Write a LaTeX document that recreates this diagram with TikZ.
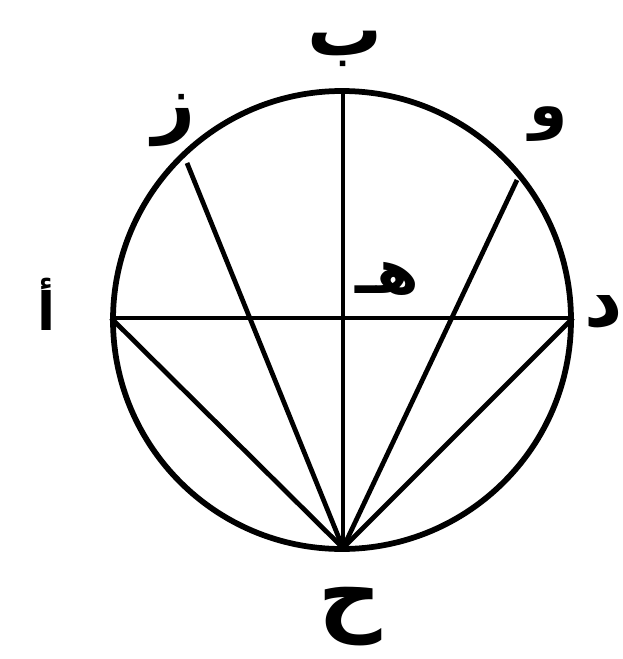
\documentclass[tikz,border=0pt]{standalone}
\usepackage{fontspec}
\newfontfamily\arabicfont[Script=Arabic]{DejaVu Sans}
\TeXXeTstate=1
\tikzset{
  rim/.style={line width=2.3mm},
  chord/.style={line width=1.9mm},
  lbl/.style={inner sep=0pt, font=\arabicfont\bfseries\fontsize{#1}{#1}\selectfont},
  lbl/.default=100
}
\begin{document}
\begin{tikzpicture}[x=0.4mm,y=-0.4mm]
\useasboundingbox (0,0) rectangle (622,659);
\coordinate (O) at (342,320);
\coordinate (B) at (343,93);
\coordinate (H) at (343,548);
\coordinate (A) at (111,318);
\coordinate (D) at (573,318);
\coordinate (Z) at (187,163);
\coordinate (W) at (517,180);
\draw[rim] (O) circle[radius=91.6mm];
\draw[chord] (A) -- (D);
\draw[chord] (B) -- (H);
\draw[chord] (Z) -- (H);
\draw[chord] (W) -- (H);
\draw[chord] (A) -- (H);
\draw[chord] (D) -- (H);
\node[lbl=85] (lb) at (345,49) {\beginR ب\endR};
\node[lbl=85] (lz) at (174,121) {\beginR ز\endR};
\node[lbl=70] (lw) at (549,124) {\beginR و\endR};
\node[lbl=60] (la) at (47,304) {\beginR أ\endR};
\node[lbl=85] (ld) at (604,312) {\beginR د\endR};
\node[lbl=70] (le) at (387,279) {\beginR هـ\endR};
\node[lbl=100] (lh) at (350,617) {\beginR ح\endR};
\end{tikzpicture}
\end{document}
